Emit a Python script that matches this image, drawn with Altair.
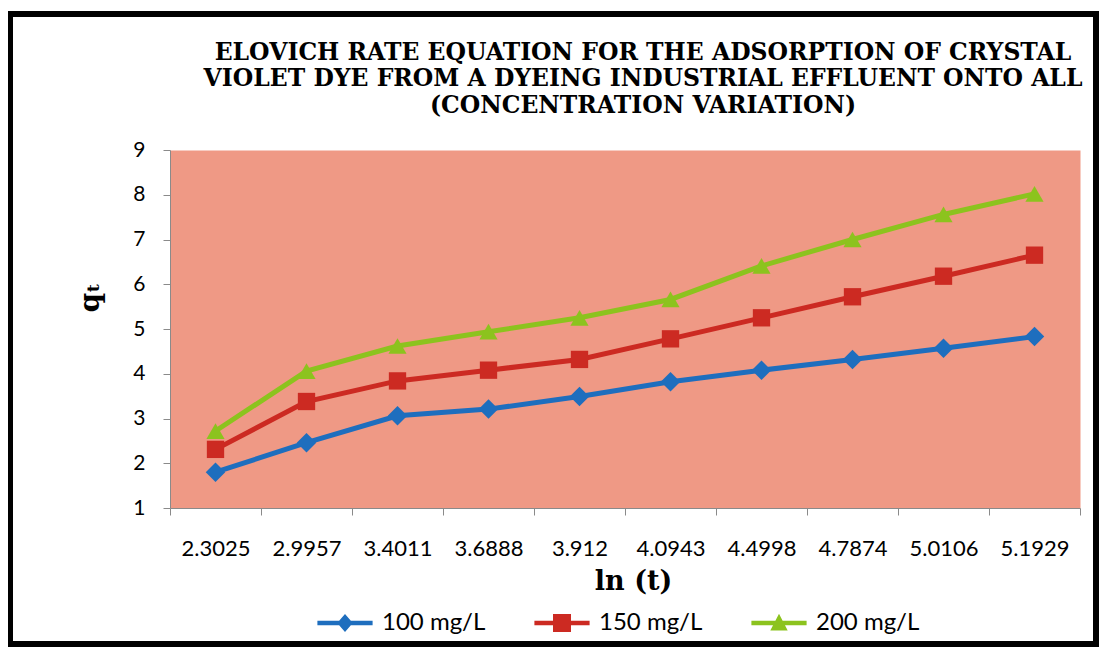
import altair as alt
import pandas as pd

# ---- data ----
ln_t = ["2.3025", "2.9957", "3.4011", "3.6888", "3.912",
        "4.0943", "4.4998", "4.7874", "5.0106", "5.1929"]
series_names = ["100 mg/L", "150 mg/L", "200 mg/L"]
q_100 = [1.80, 2.46, 3.06, 3.21, 3.49, 3.82, 4.08, 4.32, 4.57, 4.83]
q_150 = [2.31, 3.38, 3.84, 4.08, 4.32, 4.78, 5.25, 5.72, 6.18, 6.65]
q_200 = [2.72, 4.06, 4.62, 4.94, 5.25, 5.66, 6.41, 7.00, 7.56, 8.02]
y_ticks = [1, 2, 3, 4, 5, 6, 7, 8, 9]
title_lines = [
    "ELOVICH RATE EQUATION FOR THE ADSORPTION OF CRYSTAL",
    "VIOLET DYE FROM A DYEING INDUSTRIAL EFFLUENT ONTO ALL",
    "(CONCENTRATION VARIATION)",
]

colors = ["#1E6EBE", "#CC2A22", "#8CC31E"]
plot_shapes = ["diamond", "square", "triangle-up"]
plot_sizes = [380, 300, 330]
bar = "M-4.6,-0.38H4.6V0.38H-4.6Z"
legend_shapes = [
    bar + "M0,-1.5L1.3,0L0,1.5L-1.3,0Z",
    bar + "M-1.5,-1.5H1.5V1.5H-1.5Z",
    bar + "M0,-1.55L1.45,1.25H-1.45Z",
]

rows = []
for name, vals in zip(series_names, [q_100, q_150, q_200]):
    for i, (lab, v) in enumerate(zip(ln_t, vals)):
        rows.append({"idx": i, "ln_t": lab, "series": name, "q": v})
df = pd.DataFrame(rows)

n = len(ln_t)
tick_values = [k * 0.5 - 0.5 for k in range(2 * n + 1)]
label_array = "[" + ",".join("'" + s + "'" for s in ln_t) + "]"
label_expr = f"datum.value % 1 === 0 ? {label_array}[datum.value] : ''"

grey = "#8a8a8a"

x_enc = alt.X(
    "idx:Q",
    scale=alt.Scale(domain=[-0.5, n - 0.5], nice=False, zero=False),
    axis=alt.Axis(
        values=tick_values,
        labelExpr=label_expr,
        tickOpacity={"condition": {"test": "datum.value % 1 === 0", "value": 0}, "value": 1},
        grid=False,
        domainColor=grey,
        tickColor=grey,
        tickSize=7,
        labelFont="Lato",
        labelFontSize=22,
        labelColor="black",
        labelPadding=23,
        labelOverlap=False,
        labelFlush=False,
        title="ln (t)",
        titleFont="DejaVu Serif",
        titleFontWeight="bold",
        titleFontSize=27,
        titleColor="black",
        titleX=463,
        titleY=81,
        titleAlign="center",
        titleBaseline="alphabetic",
    ),
)

y_enc = alt.Y(
    "q:Q",
    scale=alt.Scale(domain=[1, 9], nice=False, zero=False),
    axis=alt.Axis(
        values=y_ticks,
        grid=False,
        domainColor=grey,
        tickColor=grey,
        tickSize=7,
        labelFont="Lato",
        labelFontSize=21,
        labelColor="black",
        labelPadding=18,
        title="qₜ",
        titleFont="DejaVu Serif",
        titleFontWeight="bold",
        titleFontSize=28,
        titleColor="black",
        titleAngle=270,
        titleX=-80,
        titleY=147,
        titleAlign="center",
        titleBaseline="middle",
    ),
)

lines = alt.Chart(df).mark_line(strokeWidth=5).encode(
    x=x_enc, y=y_enc,
    detail="series:N",
    color=alt.Color("series:N", scale=alt.Scale(domain=series_names, range=colors), legend=None),
)

point_layers = []
for name, col, shp, sz in zip(series_names, colors, plot_shapes, plot_sizes):
    point_layers.append(
        alt.Chart(df[df["series"] == name]).mark_point(
            filled=True, opacity=1, shape=shp, size=sz, color=col
        ).encode(x=x_enc, y=y_enc)
    )

leg = alt.Legend(
    orient="none", legendX=163, legendY=461, direction="horizontal", columns=3,
    title=None, symbolOpacity=1, symbolStrokeWidth=0, symbolSize=144,
    labelFont="Lato", labelFontSize=24, labelColor="black", labelOffset=25,
    columnPadding=48, padding=0, labelLimit=300,
)

legend_layer = alt.Chart(df).mark_point(filled=True, opacity=0).encode(
    x=x_enc, y=y_enc,
    color=alt.Color("series:N", scale=alt.Scale(domain=series_names, range=colors), legend=leg),
    shape=alt.Shape("series:N", scale=alt.Scale(domain=series_names, range=legend_shapes), legend=leg),
)

frame = alt.Chart(alt.Data(values=[{"f": 1}])).mark_rect(
    fill="transparent", stroke="black", strokeWidth=6
).encode(
    x=alt.value(-160), x2=alt.value(926), y=alt.value(-136), y2=alt.value(494)
)

chart = alt.layer(legend_layer, lines, *point_layers, frame).properties(
    width=910,
    height=358,
    autosize=alt.AutoSizeParams(type="none"),
    padding={"left": 162, "top": 142, "right": 20, "bottom": 140},
    background="white",
    title=alt.TitleParams(
        text=title_lines, font="DejaVu Serif", fontSize=23.5, fontWeight="bold",
        lineHeight=26.5, anchor="middle", dx=18, dy=139, offset=33, color="black",
    ),
).configure_view(fill="#EF9985", stroke="transparent")

chart.save("out.html", embed_options={"renderer": "svg", "actions": False})
